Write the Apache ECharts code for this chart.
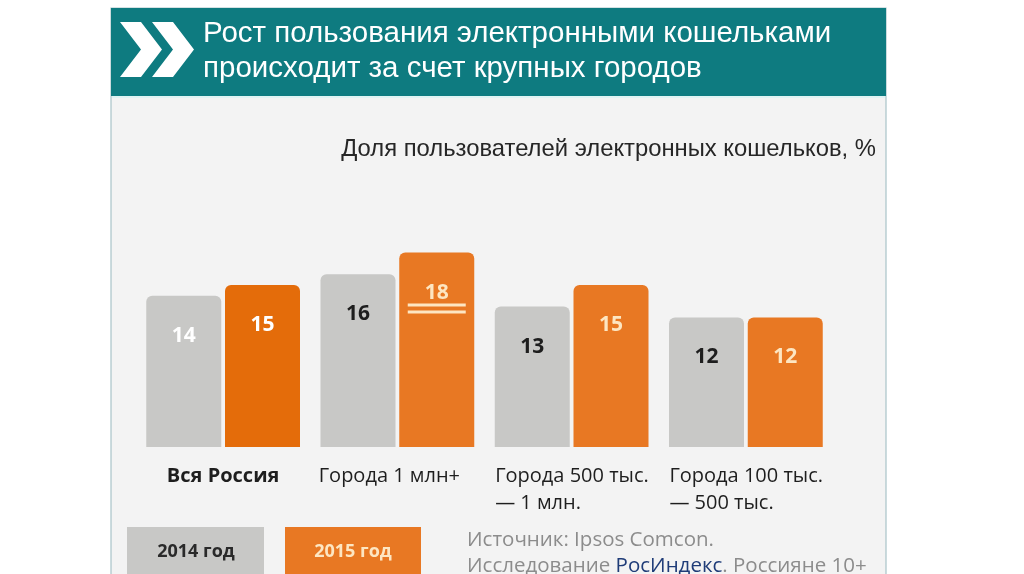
<!DOCTYPE html>
<html><head><meta charset="utf-8">
<script src="https://cdn.jsdelivr.net/npm/echarts@6/dist/echarts.min.js"></script>
<style>html,body{margin:0;padding:0;background:#fff}#c{width:1024px;height:574px}</style>
</head><body><div id="c"></div>
<script>
const categories = ['Вся Россия', 'Города 1 млн+', 'Города 500 тыс.\n— 1 млн.', 'Города 100 тыс.\n— 500 тыс.'];
const values2014 = [14, 16, 13, 12];
const values2015 = [15, 18, 15, 12];
const seriesNames = ['2014 год', '2015 год'];
const titleLines = ['Рост пользования электронными кошельками', 'происходит за счет крупных городов'];
const subtitle = 'Доля пользователей электронных кошельков, %';
const sourceLine1 = 'Источник: Ipsos Comcon.';

const color2014 = '#c8c8c6';
const colors2015 = ['#e46c0a', '#e87823', '#e87823', '#e87823'];
const labelColors2014 = ['#ffffff', '#1e1e1e', '#1e1e1e', '#1e1e1e'];
const labelColors2015 = ['#ffffff', '#fde6c2', '#fde6c2', '#fde6c2'];
const cream = '#fde6c2';
const fontMain = '"Open Sans", "Noto Sans", sans-serif';
const fontTitle = '"Liberation Sans", Arial, sans-serif';

const chart = echarts.init(document.getElementById('c'));

function barLabel(colors, underlineIdx) {
  return {
    show: true, position: 'insideTop', distance: 29,
    fontFamily: fontMain, fontWeight: 'bold', fontSize: 21,
    formatter: p => p.dataIndex === underlineIdx ? '{v|' + p.value + '}\n{l| }\n{g| }\n{l| }' : '{v|' + p.value + '}',
    rich: {
      v: { fontFamily: fontMain, fontWeight: 'bold', fontSize: 21, lineHeight: 22 },
      l: { width: 58, height: 3, lineHeight: 3, backgroundColor: cream, fontSize: 1 },
      g: { height: 4, lineHeight: 4, fontSize: 1 }
    }
  };
}

const data2014 = values2014.map((v, i) => ({ value: v, itemStyle: { color: color2014 }, label: { color: labelColors2014[i] } }));
const data2015 = values2015.map((v, i) => ({ value: v, itemStyle: { color: colors2015[i] }, label: { color: labelColors2015[i] } }));

const chev = (dx) => ({
  type: 'polygon',
  shape: { points: [[120 + dx, 22], [141 + dx, 22], [162 + dx, 49.5], [141 + dx, 77], [120 + dx, 77], [141 + dx, 49.5]] },
  style: { fill: '#ffffff' }
});

chart.setOption({
  backgroundColor: '#ffffff',
  animation: false,
  grid: { left: 136, right: 191, top: 231, bottom: 127, containLabel: false },
  xAxis: {
    type: 'category',
    data: categories.map((c, i) => ({ value: c })),
    axisLine: { show: false }, axisTick: { show: false },
    axisLabel: {
      margin: 16, interval: 0,
      formatter: (v, i) => {
        const lines = v.split('\n');
        if (i === 0) return '{b|' + v + '}';
        if (lines.length === 1) return '{n|' + v + '}';
        return lines.map(l => '{w|' + l + '}').join('\n');
      },
      rich: {
        b: { fontFamily: fontMain, fontWeight: 'bold', fontSize: 20, color: '#1e1e1e', lineHeight: 27 },
        n: { fontFamily: fontMain, fontSize: 20, color: '#1e1e1e', lineHeight: 27, padding: [0, 16, 0, 0] },
        w: { fontFamily: fontMain, fontSize: 20, color: '#1e1e1e', lineHeight: 27, width: 153, align: 'left' }
      }
    }
  },
  yAxis: { type: 'value', min: 0, max: 20, show: false, splitLine: { show: false } },
  series: [
    { name: seriesNames[0], type: 'bar', data: data2014, barWidth: 75, barGap: '5%',
      itemStyle: { borderRadius: [6, 6, 0, 0] }, label: barLabel(labelColors2014, -1) },
    { name: seriesNames[1], type: 'bar', data: data2015, barWidth: 75, barGap: '5%',
      itemStyle: { borderRadius: [6, 6, 0, 0] }, label: barLabel(labelColors2015, 1) }
  ],
  graphic: [
    { type: 'rect', z: -10, shape: { x: 111, y: 8, width: 775, height: 570 }, style: { fill: '#f3f3f3', stroke: '#a9c4c8', lineWidth: 1.2 } },
    { type: 'rect', z: -5, shape: { x: 111, y: 8, width: 775, height: 88 }, style: { fill: '#0e7b80' } },
    { type: 'rect', z: -5, shape: { x: 112, y: 96, width: 773, height: 2 }, style: { fill: '#dff3f3' } },
    chev(0), chev(32),
    { type: 'text', left: 203, top: 19, style: { text: titleLines[0], fill: '#ffffff', font: '29.5px ' + fontTitle } },
    { type: 'text', left: 203, top: 54, style: { text: titleLines[1], fill: '#ffffff', font: '29.5px ' + fontTitle } },
    { type: 'text', right: 148, top: 137, style: { text: subtitle, fill: '#262626', font: '23.8px ' + fontTitle } },
    { type: 'rect', shape: { x: 127, y: 527, width: 137, height: 60 }, style: { fill: '#c8c8c6' } },
    { type: 'rect', shape: { x: 285, y: 527, width: 136, height: 60 }, style: { fill: '#e87823' } },
    { type: 'text', x: 196, y: 552, style: { text: seriesNames[0], fill: '#2a2a2a', font: 'bold 18px ' + fontMain, align: 'center', verticalAlign: 'middle' } },
    { type: 'text', x: 353, y: 552, style: { text: seriesNames[1], fill: cream, font: 'bold 18px ' + fontMain, align: 'center', verticalAlign: 'middle' } },
    { type: 'text', left: 467, top: 530, style: { text: sourceLine1, fill: '#8c8c8c', font: '20.5px ' + fontMain } },
    { type: 'text', left: 467, top: 556, style: {
        text: '{a|Исследование }{b|РосИндекс}{a|. Россияне 10+}',
        rich: { a: { fill: '#8c8c8c', font: '20.5px ' + fontMain }, b: { fill: '#1f3c78', font: '20.5px ' + fontMain } } } }
  ]
});
</script></body></html>
